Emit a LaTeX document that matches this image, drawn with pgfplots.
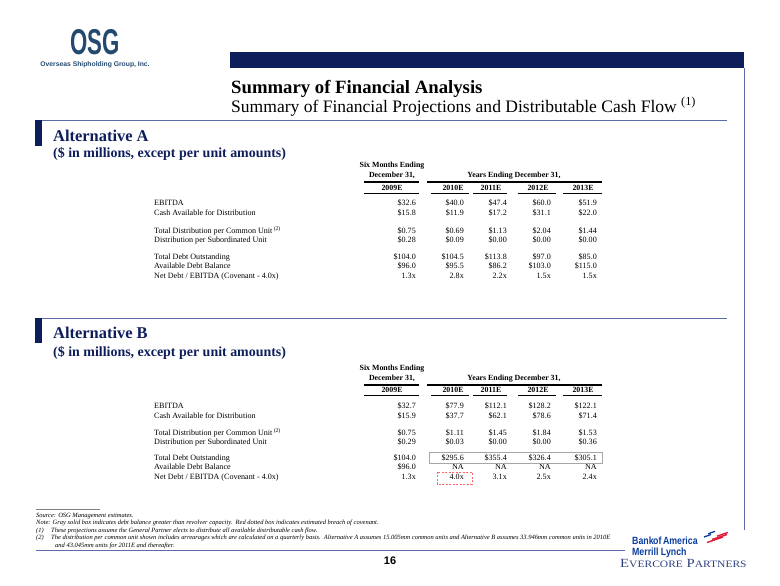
\documentclass[border=0pt]{standalone}
\usepackage{pgfplots}
\pgfplotsset{compat=1.18}
\usepackage{fontspec}
\setmainfont{Liberation Serif}
\newfontfamily\arial{Liberation Sans}
\definecolor{navy}{HTML}{0E1E5B}
\definecolor{rule}{HTML}{5A6BA8}
\definecolor{osgblue}{HTML}{24496F}
\definecolor{boablue}{HTML}{0A3C9E}
\definecolor{boared}{HTML}{E31837}
\definecolor{ever}{HTML}{2E3F7E}
\newcommand{\fs}[1]{\fontsize{#1}{#1}\selectfont}
\tikzset{
  lbl/.style={anchor=west, inner sep=0pt, font=\fs{8.1}, text height=1.4ex, text depth=0.3ex},
  val/.style={anchor=east, inner sep=0pt, font=\fs{8.1}, text height=1.4ex, text depth=0.3ex},
  hd/.style={anchor=center, inner sep=0pt, font=\fs{7.9}\bfseries, text height=1.4ex, text depth=0.3ex},
  fn/.style={anchor=west, inner sep=0pt, font=\fs{6.5}\itshape, text height=1.4ex, text depth=0.3ex},
}
% column geometry
\def\cA{416}\def\cB{464}\def\cC{507}\def\cD{551}\def\cE{597}
\def\hA{392}\def\hB{453}\def\hC{491}\def\hD{538}\def\hE{583}
\newcommand{\valrow}[7]{%
  \node[lbl] at (axis cs:154,#1) {#2};
  \node[val] at (axis cs:\cA,#1) {#3};
  \node[val] at (axis cs:\cB,#1) {#4};
  \node[val] at (axis cs:\cC,#1) {#5};
  \node[val] at (axis cs:\cD,#1) {#6};
  \node[val] at (axis cs:\cE,#1) {#7};}
% #1 six months y, #2 december y, #3 thick line y, #4 year header y, #5 thin line y
\newcommand{\tablehead}[5]{%
  \node[hd] at (axis cs:\hA,#1) {Six Months Ending};
  \node[hd] at (axis cs:\hA,#2) {December 31,};
  \node[hd] at (axis cs:514,#2) {Years Ending December 31,};
  \draw[black,line width=1.3pt] (axis cs:364,#3) -- (axis cs:419,#3);
  \draw[black,line width=1.3pt] (axis cs:427,#3) -- (axis cs:602,#3);
  \node[hd] at (axis cs:\hA,#4) {2009E};
  \node[hd] at (axis cs:\hB,#4) {2010E};
  \node[hd] at (axis cs:\hC,#4) {2011E};
  \node[hd] at (axis cs:\hD,#4) {2012E};
  \node[hd] at (axis cs:\hE,#4) {2013E};
  \draw[black,line width=0.8pt] (axis cs:364,#5) -- (axis cs:419,#5);
  \draw[black,line width=0.8pt] (axis cs:431,#5) -- (axis cs:469,#5);
  \draw[black,line width=0.8pt] (axis cs:473,#5) -- (axis cs:507,#5);
  \draw[black,line width=0.8pt] (axis cs:518,#5) -- (axis cs:556,#5);
  \draw[black,line width=0.8pt] (axis cs:563,#5) -- (axis cs:602,#5);}
\begin{document}
\begin{tikzpicture}
\begin{axis}[scale only axis, width=780bp, height=585bp,
  xmin=0, xmax=780, ymin=0, ymax=585, y dir=reverse,
  hide axis, clip=false]
\coordinate (BL) at (axis cs:0,585);
\coordinate (TR) at (axis cs:780,0);
% ---- OSG logo
\node[anchor=base, inner sep=0pt, text=osgblue, font=\arial\fs{36}\bfseries, xscale=0.62, text depth=0pt] at (axis cs:95,55) {OSG};
\node[anchor=center, inner sep=0pt, text=osgblue, font=\arial\fs{6.8}\bfseries] at (axis cs:95,65) {Overseas Shipholding Group, Inc.};
% ---- title block
\fill[navy] (axis cs:230,52) rectangle (axis cs:744,68);
\draw[rule, line width=1pt] (axis cs:744,68) -- (axis cs:744,530);
\node[anchor=base west, inner sep=0pt, font=\fs{18.8}\bfseries] at (axis cs:231,93) {Summary of Financial Analysis};
\node[anchor=base west, inner sep=0pt, font=\fs{17.6}] at (axis cs:231,112) {Summary of Financial Projections and Distributable Cash Flow \textsuperscript{(1)}};
\draw[rule, line width=0.8pt] (axis cs:36,120) -- (axis cs:727,120);
% ---- Alternative A
\fill[navy] (axis cs:35,120) rectangle (axis cs:42,146);
\node[anchor=base west, inner sep=0pt, text=navy, font=\fs{16.5}\bfseries] at (axis cs:53,141) {Alternative A};
\node[anchor=base west, inner sep=0pt, text=navy, font=\fs{14}\bfseries] at (axis cs:53,157) {(\$ in millions, except per unit amounts)};
\tablehead{165}{175}{182}{187.5}{193}
\valrow{203}{EBITDA}{\$32.6}{\$40.0}{\$47.4}{\$60.0}{\$51.9}
\valrow{213}{Cash Available for Distribution}{\$15.8}{\$11.9}{\$17.2}{\$31.1}{\$22.0}
\valrow{231}{Total Distribution per Common Unit\,\textsuperscript{(2)}}{\$0.75}{\$0.69}{\$1.13}{\$2.04}{\$1.44}
\valrow{240}{Distribution per Subordinated Unit}{\$0.28}{\$0.09}{\$0.00}{\$0.00}{\$0.00}
\valrow{257}{Total Debt Outstanding}{\$104.0}{\$104.5}{\$113.8}{\$97.0}{\$85.0}
\valrow{266}{Available Debt Balance}{\$96.0}{\$95.5}{\$86.2}{\$103.0}{\$115.0}
\valrow{276}{Net Debt / EBITDA (Covenant - 4.0x)}{1.3x}{2.8x}{2.2x}{1.5x}{1.5x}
% ---- Alternative B
\draw[rule, line width=0.8pt] (axis cs:36,318) -- (axis cs:727,318);
\fill[navy] (axis cs:35,318) rectangle (axis cs:42,343);
\node[anchor=base west, inner sep=0pt, text=navy, font=\fs{16.5}\bfseries] at (axis cs:53,338) {Alternative B};
\node[anchor=base west, inner sep=0pt, text=navy, font=\fs{14}\bfseries] at (axis cs:53,356) {(\$ in millions, except per unit amounts)};
\tablehead{368}{378}{385}{390}{395}
\valrow{406}{EBITDA}{\$32.7}{\$77.9}{\$112.1}{\$128.2}{\$122.1}
\valrow{416}{Cash Available for Distribution}{\$15.9}{\$37.7}{\$62.1}{\$78.6}{\$71.4}
\valrow{433}{Total Distribution per Common Unit\,\textsuperscript{(2)}}{\$0.75}{\$1.11}{\$1.45}{\$1.84}{\$1.53}
\valrow{442}{Distribution per Subordinated Unit}{\$0.29}{\$0.03}{\$0.00}{\$0.00}{\$0.36}
\valrow{458}{Total Debt Outstanding}{\$104.0}{\$295.6}{\$355.4}{\$326.4}{\$305.1}
\valrow{467}{Available Debt Balance}{\$96.0}{NA}{NA}{NA}{NA}
\valrow{477}{Net Debt / EBITDA (Covenant - 4.0x)}{1.3x}{4.0x}{3.1x}{2.5x}{2.4x}
\draw[gray!70, line width=0.8pt] (axis cs:429,452.5) rectangle (axis cs:602,463.5);
\draw[red!60, line width=0.8pt, dash pattern=on 2pt off 1.5pt] (axis cs:437,472) rectangle (axis cs:472,484);
% ---- footnotes
\draw[gray, line width=0.4pt] (axis cs:36,509) -- (axis cs:100,509);
\node[fn] at (axis cs:36,515) {Source: OSG Management estimates.};
\node[fn] at (axis cs:36,522) {Note: Gray solid box indicates debt balance greater than revolver capacity.\ \ Red dotted box indicates estimated breach of covenant.};
\node[fn] at (axis cs:36,530) {(1)};
\node[fn] at (axis cs:51,530) {These projections assume the General Partner elects to distribute all available distributable cash flow.};
\node[fn] at (axis cs:36,537) {(2)};
\node[fn] at (axis cs:51,537) {The distribution per common unit shown includes arrearages which are calculated on a quarterly basis.\ \ Alternative A assumes 15.005mm common units and Alternative B assumes 33.946mm common units in 2010E};
\node[fn] at (axis cs:55,545) {and 43.045mm units for 2011E and thereafter.};
\draw[rule, line width=1pt] (axis cs:36,550) -- (axis cs:625,550);
\node[anchor=center, inner sep=0pt, font=\arial\fs{11}\bfseries] at (axis cs:390,561) {16};
% ---- Bank of America / Evercore
\node[anchor=west, inner sep=0pt, text=boablue, font=\arial\fs{10.5}\bfseries, xscale=0.84] at (axis cs:632,541) {Bank\hspace{-0.5pt}of\,America};
\node[anchor=west, inner sep=0pt, text=boablue, font=\arial\fs{10.5}\bfseries, xscale=0.84] at (axis cs:632,552.5) {Merrill Lynch};
\draw[boablue, line width=1.3pt] (axis cs:704,537) -- (axis cs:711,534.5);
\draw[boablue, line width=1.3pt] (axis cs:708,533.8) -- (axis cs:715,531.3);
\draw[boared, line width=1.4pt] (axis cs:707,542.5) -- (axis cs:723,537);
\draw[boared, line width=1.4pt] (axis cs:712,539.5) -- (axis cs:727,534.5);
\draw[boared, line width=1.4pt] (axis cs:717,536.2) -- (axis cs:728,532.4);
\node[anchor=west, inner sep=0pt, text=ever, font=\fs{12.5}, xscale=1.18] at (axis cs:620,563.5) {E{\fs{9.8}VERCORE} P{\fs{9.8}ARTNERS}};
\end{axis}
\pgfresetboundingbox
\path (BL) rectangle (TR);
\end{tikzpicture}
\end{document}
